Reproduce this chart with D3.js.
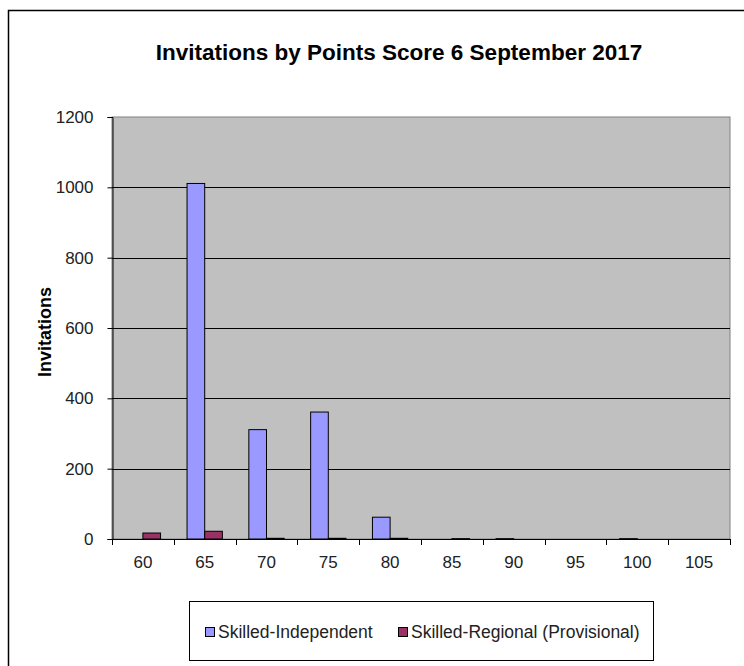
<!DOCTYPE html>
<html><head><meta charset="utf-8">
<script src="https://cdn.jsdelivr.net/npm/d3@7"></script>
<style>body{margin:0;background:#fff}svg{display:block}text{font-family:"Liberation Sans",Arial,sans-serif}</style>
</head><body>
<svg id="c" width="744" height="666"></svg>
<script>
const categories = ["60","65","70","75","80","85","90","95","100","105"];
const seriesNames = ["Skilled-Independent","Skilled-Regional (Provisional)"];
const skilledIndependent = [0,1011,311,361,62,0,1,0,1,0];
const skilledRegional = [17,22,2,2,2,1,0,0,0,0];
const yTicks = [0,200,400,600,800,1000,1200];
const colors = ["#9999FF","#993366"];
const title = "Invitations by Points Score 6 September 2017";
const yTitle = "Invitations";

const svg = d3.select("#c");
// outer chart border
svg.append("rect").attr("x",8.5).attr("y",10.5).attr("width",760).attr("height",700)
  .attr("fill","#fff").attr("stroke","#000").attr("stroke-width",1.5);

const L=112, R=730, T=117, B=539;
const x = d3.scaleBand().domain(categories).range([L,R]).paddingInner(0).paddingOuter(0);
const x1 = d3.scaleBand().domain(seriesNames).range([0,x.bandwidth()]).paddingInner(0).paddingOuter(0.75);
const y = d3.scaleLinear().domain([0,1200]).range([B,T]);

svg.append("rect").attr("x",L).attr("y",T).attr("width",R-L).attr("height",B-T)
  .attr("fill","#C0C0C0").attr("stroke","#808080").attr("stroke-width",1);

// gridlines
svg.append("g").selectAll("line").data(yTicks.filter(d=>d>0&&d<1200)).join("line")
  .attr("x1",L).attr("x2",R).attr("y1",d=>Math.round(y(d))+0.5).attr("y2",d=>Math.round(y(d))+0.5)
  .attr("stroke","#000").attr("stroke-width",1);

const data = categories.map((c,i)=>({c, vals:[skilledIndependent[i],skilledRegional[i]]}));
const g = svg.append("g");
data.forEach(d=>{
  d.vals.forEach((v,j)=>{
    if(v<=0) return;
    const h = B - y(v);
    g.append("rect").attr("x",x(d.c)+x1(seriesNames[j])).attr("y",y(v))
      .attr("width",x1.bandwidth()).attr("height",Math.max(h,0.5))
      .attr("fill",colors[j]).attr("stroke","#000").attr("stroke-width",1);
  });
});

// y axis
const yAxis = d3.axisLeft(y).tickValues(yTicks).tickSize(5).tickPadding(14).tickFormat(d3.format("d"));
const ya = svg.append("g").attr("transform",`translate(${L+0.5},0)`).call(yAxis);
ya.select(".domain").attr("stroke","#000");
ya.selectAll("text").attr("font-size",17).attr("fill","#222");

// x axis
const xb = d3.scaleLinear().domain([0,categories.length]).range([L,R]);
svg.append("line").attr("x1",L).attr("x2",R).attr("y1",B+0.5).attr("y2",B+0.5).attr("stroke","#000");
svg.append("g").selectAll("line").data(d3.range(categories.length+1)).join("line")
  .attr("x1",d=>Math.round(xb(d))+0.5).attr("x2",d=>Math.round(xb(d))+0.5)
  .attr("y1",B).attr("y2",B+6).attr("stroke","#000");
svg.append("g").selectAll("text").data(categories).join("text")
  .attr("x",d=>x(d)+x.bandwidth()/2).attr("y",B+29).attr("text-anchor","middle")
  .attr("font-size",17).attr("fill","#222").text(d=>d);

// title
svg.append("text").attr("x",399).attr("y",60).attr("text-anchor","middle")
  .attr("font-size",22.5).attr("font-weight","bold").attr("fill","#000").text(title);
// y title
svg.append("text").attr("transform","translate(51,332) rotate(-90)").attr("text-anchor","middle")
  .attr("font-size",18).attr("font-weight","bold").attr("fill","#000").text(yTitle);

// legend
svg.append("rect").attr("x",189.5).attr("y",601.5).attr("width",464).attr("height",59)
  .attr("fill","#fff").attr("stroke","#000").attr("stroke-width",1);
const lx=[205,398];
seriesNames.forEach((s,j)=>{
  svg.append("rect").attr("x",lx[j]+0.5).attr("y",627.5).attr("width",9).attr("height",9)
    .attr("fill",colors[j]).attr("stroke","#000");
  svg.append("text").attr("x",lx[j]+13).attr("y",638).attr("font-size",17.5).attr("fill","#222").text(s);
});
</script>
</body></html>
